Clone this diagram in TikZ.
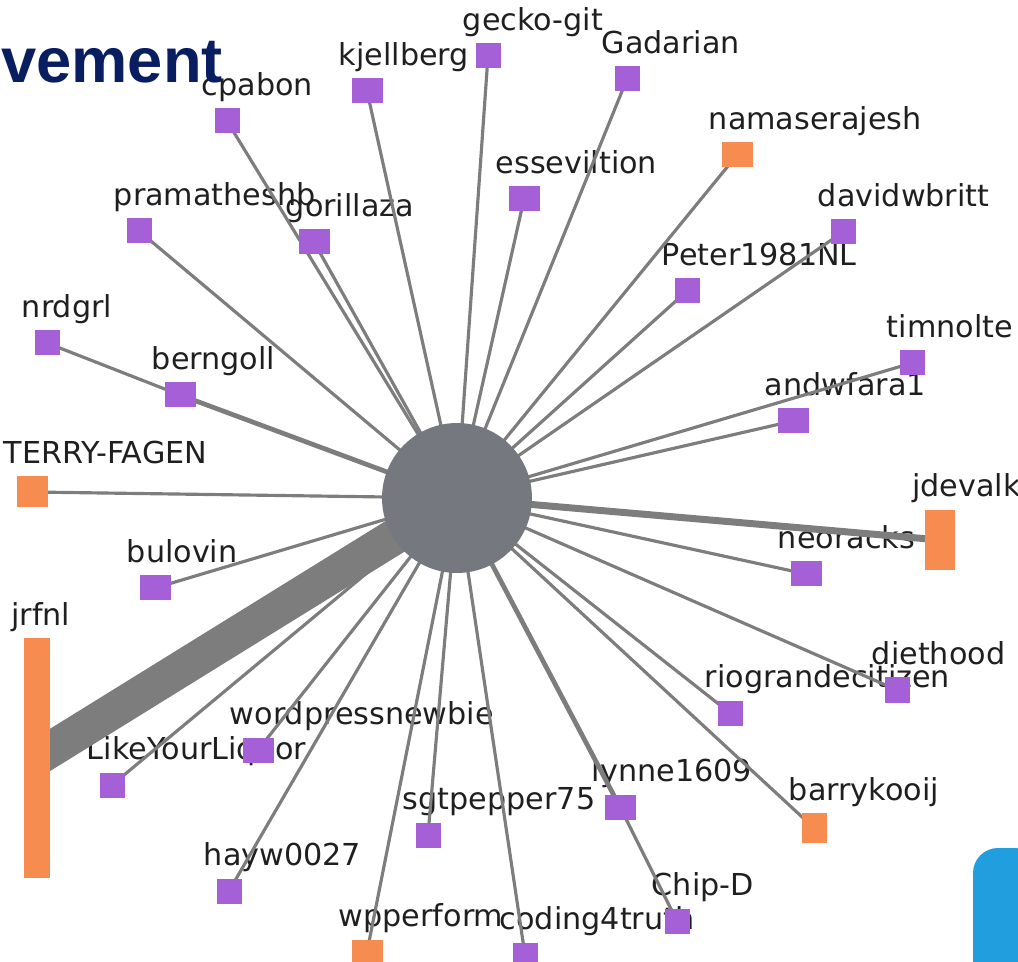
\documentclass[tikz,border=0pt]{standalone}
\usepackage{fontspec}
\setmainfont{DejaVu Sans}
\newfontfamily\titlefont{Liberation Sans}
\usetikzlibrary{positioning}

\definecolor{usrpurple}{RGB}{165,95,215}
\definecolor{usrorange}{RGB}{247,140,80}
\definecolor{edgegray}{RGB}{125,125,125}
\definecolor{hubgray}{RGB}{118,120,128}
\definecolor{titleblue}{RGB}{8,30,96}
\definecolor{logoblue}{RGB}{32,158,222}

\pgfdeclarelayer{labels}
\pgfdeclarelayer{edges}
\pgfsetlayers{labels,edges,main}

\tikzset{
  user/.style={rectangle, inner sep=0pt, draw=none},
  lbl/.style={anchor=base west, inner sep=0pt, text=black!88, font=\fontsize{17.2}{20}\selectfont},
  link/.style={draw=edgegray, line width=1.8pt},
  heavylink/.style={draw=edgegray, line width=2.7pt},
}

\begin{document}
\begin{tikzpicture}[x=0.02cm, y=-0.02cm]
\useasboundingbox (0,0) rectangle (1018,962);
\clip (0,0) rectangle (1018,962);

% hub in the middle
\node[circle, fill=hubgray, minimum size=3cm, inner sep=0pt] (hub) at (457,498) {};

% users: name/x/y/width/height/colour/label
\foreach \n/\x/\y/\w/\h/\c/\t in {
  gecko/488/56/25/25/usrpurple/gecko-git,
  gadarian/627/79/25/25/usrpurple/Gadarian,
  kjellberg/367/91/31/25/usrpurple/kjellberg,
  cpabon/227/121/25/25/usrpurple/cpabon,
  namase/737/155/31/25/usrorange/namaserajesh,
  essev/524/199/31/25/usrpurple/esseviltion,
  pramath/139/231/25/25/usrpurple/pramatheshb,
  gorilla/314/242/31/25/usrpurple/gorillaza,
  davidw/843/232/25/25/usrpurple/davidwbritt,
  peter/687/291/25/25/usrpurple/Peter1981NL,
  nrdgrl/47/343/25/25/usrpurple/nrdgrl,
  berngoll/180/395/31/25/usrpurple/berngoll,
  timnolte/912/363/25/25/usrpurple/timnolte,
  andwfara/793/421/31/25/usrpurple/andwfara1,
  terry/32/492/31/31/usrorange/TERRY-FAGEN,
  jdevalk/940/540/30/60/usrorange/jdevalk,
  neoracks/806/574/31/25/usrpurple/neoracks,
  bulovin/155/588/31/25/usrpurple/bulovin,
  jrfnl/37/758/26/239/usrorange/jrfnl,
  diethood/897/690/25/25/usrpurple/diethood,
  riogrande/730/713/25/25/usrpurple/riograndecitizen,
  wpnewbie/258/750/31/25/usrpurple/wordpressnewbie,
  liquor/112/785/25/25/usrpurple/LikeYourLiquor,
  lynne/620/807/31/25/usrpurple/lynne1609,
  barry/814/828/25/30/usrorange/barrykooij,
  sgtpepper/428/835/25/25/usrpurple/sgtpepper75,
  hayw/229/891/25/25/usrpurple/hayw0027,
  chipd/677/921/25/25/usrpurple/Chip-D,
  wpperform/367/952/31/25/usrorange/wpperform,
  coding/525/955/25/25/usrpurple/coding4truth}{
  \node[user, fill=\c, minimum width=\w*0.02cm, minimum height=\h*0.02cm] (\n) at (\x,\y) {};
  \begin{pgfonlayer}{labels}
    \node[lbl] (\n-lbl) at ({\x-\w/2-13},{\y-\h/2-13}) {\t};
  \end{pgfonlayer}
}

% connectors
\begin{pgfonlayer}{edges}
  \foreach \n in {gecko,gadarian,kjellberg,cpabon,namase,essev,pramath,gorilla,davidw,peter,
                  timnolte,andwfara,terry,neoracks,bulovin,diethood,riogrande,wpnewbie,
                  liquor,barry,sgtpepper,hayw,wpperform,coding}
    \draw[link] (hub.center) -- (\n.center);
  \draw[heavylink] (hub.center) -- (berngoll.center);
  \draw[heavylink] (hub.center) -- (lynne.center);
  \draw[link] (berngoll.center) -- (nrdgrl.center);
  \draw[link] (lynne.center) -- (chipd.center);
  \draw[edgegray, line width=0.14cm] (hub.center) -- (jdevalk.center);
  \draw[edgegray, line width=0.72cm] (hub.center) -- (jrfnl.center);
\end{pgfonlayer}

% slide leftovers
\node[anchor=base west, inner sep=0pt, text=titleblue, font=\titlefont\bfseries\fontsize{36}{40}\selectfont] (title) at (1,83) {vement};
\fill[logoblue, rounded corners=0.5cm] (973,848) rectangle (1040,990);
\end{tikzpicture}
\end{document}
